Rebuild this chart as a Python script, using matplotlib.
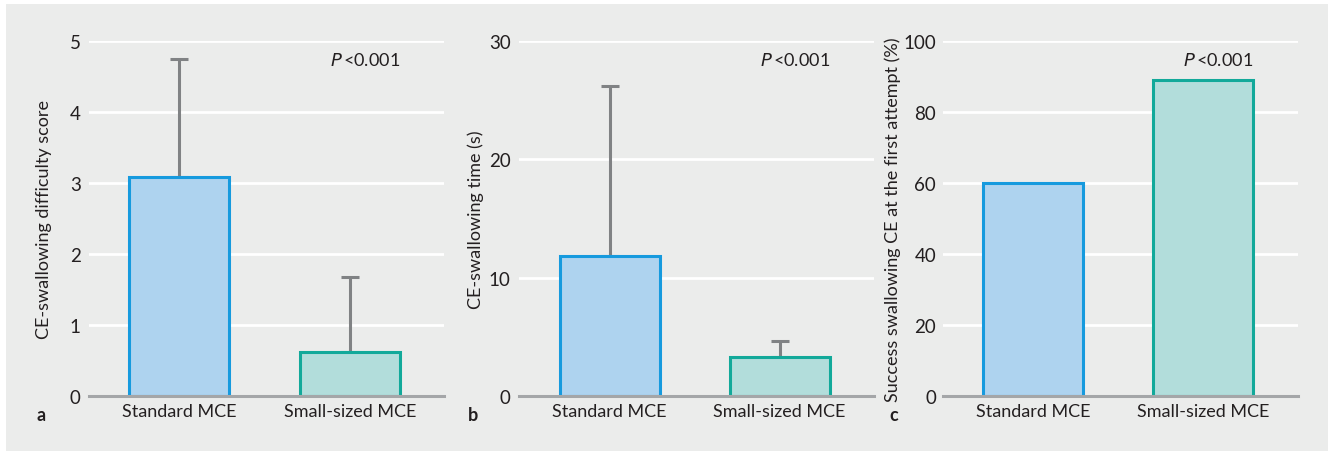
import matplotlib
matplotlib.use("Agg")
import matplotlib.pyplot as plt
from matplotlib.patches import Rectangle

categories = ["Standard MCE", "Small-sized MCE"]

difficulty_mean = [3.09, 0.615]
difficulty_sd = [1.65, 1.055]

time_mean = [11.86, 3.27]
time_sd = [14.31, 1.35]

success_pct = [60, 89]

panel_letters = ["a", "b", "c"]
ylabels = ["CE-swallowing difficulty score", "CE-swallowing time (s)",
           "Success swallowing CE at the first attempt (%)"]
yticks_list = [[0, 1, 2, 3, 4, 5], [0, 10, 20, 30], [0, 20, 40, 60, 80, 100]]
ylims = [(0, 5), (0, 30), (0, 100)]

BG = "#ebeceb"
FILLS = ["#aed3ef", "#b2dddb"]
EDGES = ["#169ade", "#12a99a"]
ERRC = "#808284"
FONT = "Lato"
plt.rcParams["font.family"] = FONT

W, H = 1332, 456
fig = plt.figure(figsize=(W / 100, H / 100), dpi=100, facecolor="white")
fig.patches.append(Rectangle((6 / W, 1 - 452 / H), 1322 / W, 447 / H, transform=fig.transFigure,
                             facecolor=BG, edgecolor="none", zorder=-10))

# axes pixel boxes: (left, right)
boxes = [(89, 444), (519, 874), (943, 1298)]
y_top, y_bot = 42, 397
centers = [(179, 350), (609.5, 779.5), (1033, 1203.3)]
ptext_x = [365, 795, 1218]
letter_x = [41, 473, 894]
ylabel_x = [44, 476, 893]
ytick_pad = [6, 6, 5]

data = [(difficulty_mean, difficulty_sd), (time_mean, time_sd), (success_pct, None)]

for i in range(3):
    l, r = boxes[i]
    ax = fig.add_axes([l / W, 1 - y_bot / H, (r - l) / W, (y_bot - y_top) / H])
    ax.set_facecolor("none")
    c0, c1 = centers[i]
    sp = c1 - c0
    ax.set_xlim(-(c0 - l) / sp, 1 + (r - c1) / sp)
    ax.set_ylim(*ylims[i])
    vals, errs = data[i]
    x = [0, 1]
    for j in range(2):
        ax.bar(x[j], vals[j], width=100 / sp, color=FILLS[j], edgecolor=EDGES[j],
               linewidth=2.2, zorder=3)
        if errs is not None:
            ax.errorbar(x[j], vals[j], yerr=[[0], [errs[j]]], fmt="none", ecolor=ERRC,
                        elinewidth=2.2, capsize=6.5, capthick=2.2, zorder=2)
    ax.set_yticks(yticks_list[i])
    ax.yaxis.grid(True, color="white", linewidth=2, zorder=0)
    ax.set_axisbelow(True)
    for s in ["top", "right", "left"]:
        ax.spines[s].set_visible(False)
    ax.spines["bottom"].set_color("#a4a6a8")
    ax.spines["bottom"].set_linewidth(2.2)
    ax.spines["bottom"].set_zorder(4)
    ax.tick_params(axis="y", length=0, pad=ytick_pad[i], labelsize=13.5, labelcolor="#231f20")
    ax.tick_params(axis="x", length=0, pad=5, labelsize=13, labelcolor="#231f20")
    ax.set_xticks(x)
    ax.set_xticklabels(categories)
    fig.text(ylabel_x[i] / W, 1 - (y_top + y_bot) / 2 / H, ylabels[i], rotation=90,
             ha="center", va="center", fontsize=13, color="#231f20")
    fig.text(letter_x[i] / W, 1 - 416 / H, panel_letters[i], ha="center", va="center",
             fontsize=13, fontweight="bold", color="#231f20")
    fig.text(ptext_x[i] / W, 1 - 60 / H, r"$\it{P}$" + "\u2009<0.001", ha="center",
             va="center", fontsize=13, color="#231f20")

fig.savefig("out.png", dpi=100, facecolor="white")
